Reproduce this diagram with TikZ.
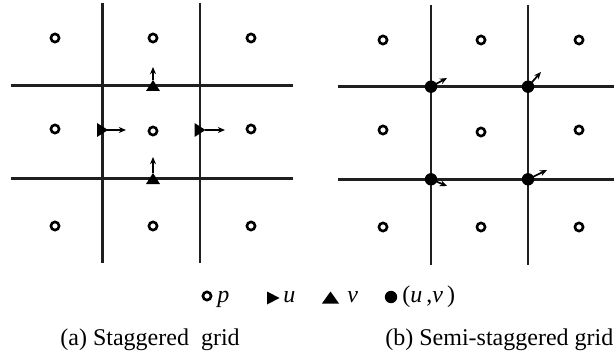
\documentclass[tikz,border=0pt]{standalone}
\usepackage{fontspec}
\setmainfont{Liberation Serif}
\usetikzlibrary{arrows.meta,calc}
\begin{document}
\begin{tikzpicture}[x=0.5pt,y=-0.5pt,
  gridline/.style={line width=1.3pt, black!88},
  pnode/.style={circle, draw, line width=1.3pt, inner sep=0pt, minimum size=4.1pt},
  dotnode/.style={circle, fill, inner sep=0pt, minimum size=6.2pt},
  vel/.style={line width=0.85pt, -{Stealth[length=3.6pt,width=3pt]}},
  tri/.style={fill=black},
  lbl/.style={inner sep=0pt, font=\fontsize{12}{14}\selectfont}]
\useasboundingbox (0,0) rectangle (614,352);
% ---------- (a) staggered grid ----------
\coordinate (aV1t) at (102.5,3); \coordinate (aV1b) at (102.5,263);
\coordinate (aV2t) at (200,3);   \coordinate (aV2b) at (200,263);
\coordinate (aH1l) at (11,85.5); \coordinate (aH1r) at (293,85.5);
\coordinate (aH2l) at (11,178.3);\coordinate (aH2r) at (293,178.3);
\draw[gridline] (aV1t) -- (aV1b);
\draw[gridline] (aV2t) -- (aV2b);
\draw[gridline] (aH1l) -- (aH1r);
\draw[gridline] (aH2l) -- (aH2r);
\foreach \x/\n in {55/1,153/2,251/3}{
  \node[pnode] (ap1\n) at (\x,38) {};
  \node[pnode] (ap3\n) at (\x,226) {};
}
\node[pnode] (ap21) at (55,129) {};
\node[pnode] (ap22) at (153,131) {};
\node[pnode] (ap23) at (251,129) {};
% v points
\coordinate (av1) at (153,85.5);
\coordinate (av2) at (153,178.5);
\fill[tri] (av1) ++(-7,5.5) -- ++(14,0) -- ++(-7,-11) -- cycle;
\fill[tri] (av2) ++(-7,5.5) -- ++(14,0) -- ++(-7,-11) -- cycle;
\coordinate (av1a) at (153,80.5); \coordinate (av1e) at (153,67);
\coordinate (av2a) at (153,173.5); \coordinate (av2e) at (153,157);
\draw[vel] (av1a) -- (av1e);
\draw[vel] (av2a) -- (av2e);
% u points
\coordinate (au1) at (102.5,130);
\coordinate (au2) at (200,130);
\fill[tri] (au1) ++(-5.5,-7) -- ++(0,14) -- ++(11,-7) -- cycle;
\fill[tri] (au2) ++(-5.5,-7) -- ++(0,14) -- ++(11,-7) -- cycle;
\coordinate (au1a) at (107,130); \coordinate (au1e) at (126,130);
\coordinate (au2a) at (204.5,130); \coordinate (au2e) at (225,130);
\draw[vel] (au1a) -- (au1e);
\draw[vel] (au2a) -- (au2e);
% ---------- (b) semi-staggered grid ----------
\coordinate (bV1t) at (431,5); \coordinate (bV1b) at (431,265);
\coordinate (bV2t) at (528,5); \coordinate (bV2b) at (528,265);
\coordinate (bH1l) at (338,86.7); \coordinate (bH1r) at (614,86.7);
\coordinate (bH2l) at (338,179.3);\coordinate (bH2r) at (614,179.3);
\draw[gridline] (bV1t) -- (bV1b);
\draw[gridline] (bV2t) -- (bV2b);
\draw[gridline] (bH1l) -- (bH1r);
\draw[gridline] (bH2l) -- (bH2r);
\foreach \x/\n in {383/1,481/2,579/3}{
  \node[pnode] (bp1\n) at (\x,40) {};
  \node[pnode] (bp3\n) at (\x,227) {};
}
\node[pnode] (bp21) at (383,130) {};
\node[pnode] (bp22) at (481,132) {};
\node[pnode] (bp23) at (579,130) {};
\node[dotnode] (buv1) at (431,86.7) {};
\node[dotnode] (buv2) at (528,86.7) {};
\node[dotnode] (buv3) at (431,179.3) {};
\node[dotnode] (buv4) at (528,179.3) {};
\coordinate (be1) at (447,78);
\coordinate (be2) at (541,72);
\coordinate (be3) at (447,186);
\coordinate (be4) at (547,170);
\draw[vel] (buv1.center) -- (be1);
\draw[vel] (buv2.center) -- (be2);
\draw[vel] (buv3.center) -- (be3);
\draw[vel] (buv4.center) -- (be4);
% ---------- legend ----------
\node[pnode] (lp) at (207,296) {};
\node[lbl, anchor=base west] (lpt) at (217,302) {\textit{p}};
\coordinate (lu) at (273,298);
\fill[tri] (lu) ++(-6,-6.5) -- ++(0,13) -- ++(12.5,-6.5) -- cycle;
\node[lbl, anchor=base west] (lut) at (283,302) {\textit{u}};
\coordinate (lv) at (330.5,297.5);
\fill[tri] (lv) ++(-8.5,6) -- ++(17,0) -- ++(-8.5,-12) -- cycle;
\node[lbl, anchor=base west] (lvt) at (347,302) {\textit{v}};
\node[dotnode] (luv) at (391,297) {};
\node[lbl, anchor=base west] (luvt) at (402,302) {(\textit{u}\,,\textit{v}\,)};
% ---------- captions ----------
\node[lbl, anchor=base west] (capa) at (60,345) {(a) Staggered\ \ grid};
\node[lbl, anchor=base west] (capb) at (385,345) {(b) Semi-staggered grid};
\end{tikzpicture}
\end{document}
